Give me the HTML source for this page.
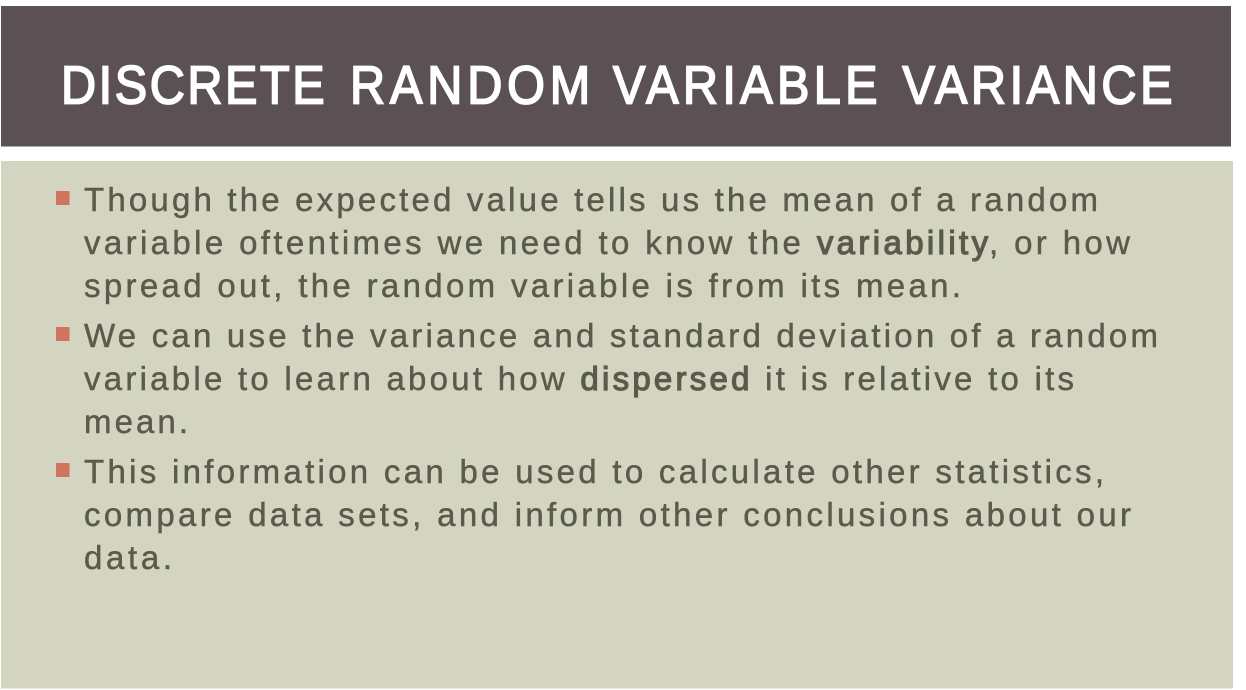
<!DOCTYPE html>
<html lang="en">
<head>
<meta charset="utf-8">
<title>Discrete Random Variable Variance</title>
<style>
html,body{margin:0;padding:0;background:#fff;}
body{width:1246px;height:690px;overflow:hidden;position:relative;}
svg{position:absolute;left:0;top:0;display:block;}
text{font-family:"Liberation Sans",sans-serif;filter:blur(.35px);}
.b{font-size:33px;fill:#5a5a4d;stroke:#5a5a4d;stroke-width:.45px;}
.t{font-size:54px;fill:#fff;stroke:#fff;stroke-width:1.8px;}
tspan.s{stroke-width:1.2px;}
</style>
</head>
<body>
<svg width="1246" height="690" viewBox="0 0 1246 690">
<rect width="1246" height="690" fill="#ffffff"/>
<rect x="1" y="6" width="1230" height="140.5" fill="#5b5154"/>
<rect x="1" y="161" width="1232" height="527.5" fill="#d3d5c0"/>
<g>
<text class="t" x="0" y="0" transform="translate(61,103.5) scale(.9,1)" textLength="293" lengthAdjust="spacing">DISCRETE</text>
<text class="t" x="0" y="0" transform="translate(350,103.5) scale(.9,1)" textLength="267" lengthAdjust="spacing">RANDOM</text>
<text class="t" x="0" y="0" transform="translate(613,103.5) scale(.9,1)" textLength="294" lengthAdjust="spacing">VARIABLE</text>
<text class="t" x="0" y="0" transform="translate(902.5,103.5) scale(.9,1)" textLength="300" lengthAdjust="spacing">VARIANCE</text>
</g>
<rect x="56" y="191" width="13.5" height="14" fill="#d0745e"/>
<rect x="56" y="327" width="13.5" height="14" fill="#d0745e"/>
<rect x="56" y="463" width="13.5" height="14" fill="#d0745e"/>
<text class="b" x="84" y="211" textLength="1014" lengthAdjust="spacing">Though the expected value tells us the mean of a random</text>
<text class="b" x="84" y="254" textLength="1046" lengthAdjust="spacing">variable oftentimes we need to know the <tspan class="s">variability</tspan>, or how</text>
<text class="b" x="84" y="297" textLength="877" lengthAdjust="spacing">spread out, the random variable is from its mean.</text>
<text class="b" x="84" y="347" textLength="1074" lengthAdjust="spacing">We can use the variance and standard deviation of a random</text>
<text class="b" x="84" y="390" textLength="990" lengthAdjust="spacing">variable to learn about how <tspan class="s">dispersed</tspan> it is relative to its</text>
<text class="b" x="84" y="433" textLength="104" lengthAdjust="spacing">mean.</text>
<text class="b" x="84" y="483" textLength="1020" lengthAdjust="spacing">This information can be used to calculate other statistics,</text>
<text class="b" x="84" y="526" textLength="1047" lengthAdjust="spacing">compare data sets, and inform other conclusions about our</text>
<text class="b" x="84" y="569" textLength="88" lengthAdjust="spacing">data.</text>
</svg>
</body>
</html>
